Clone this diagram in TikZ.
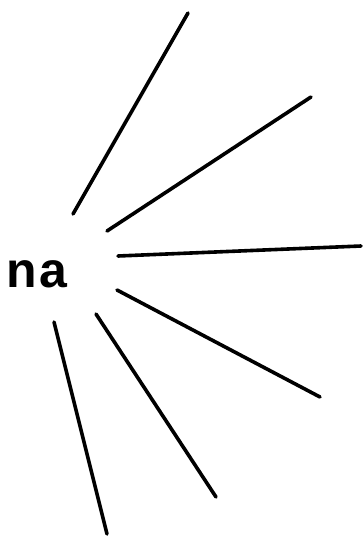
\documentclass[tikz,border=0pt]{standalone}
\usepackage{fontspec}
\setmainfont{Liberation Sans}
\begin{document}
\begin{tikzpicture}[x=1pt,y=-1pt,
  ray/.style={line width=3.6pt,line cap=round},
  lbl/.style={font=\bfseries\fontsize{50}{50}\selectfont,inner sep=0pt}]
\useasboundingbox[fill=white] (0,0) rectangle (363,536);
\node[lbl,anchor=base west] (na) at (6,287) {n\kern3pt a};
\coordinate (s1) at (73,214); \coordinate (e1) at (188,13);
\coordinate (s2) at (107,231); \coordinate (e2) at (311,97);
\coordinate (s3) at (118,256); \coordinate (e3) at (361,246);
\coordinate (s4) at (117,290); \coordinate (e4) at (320,397);
\coordinate (s5) at (96,314); \coordinate (e5) at (216,497);
\coordinate (s6) at (54,322); \coordinate (e6) at (107,534);
\foreach \i in {1,...,6} {\draw[ray] (s\i) -- (e\i);}
\end{tikzpicture}
\end{document}
